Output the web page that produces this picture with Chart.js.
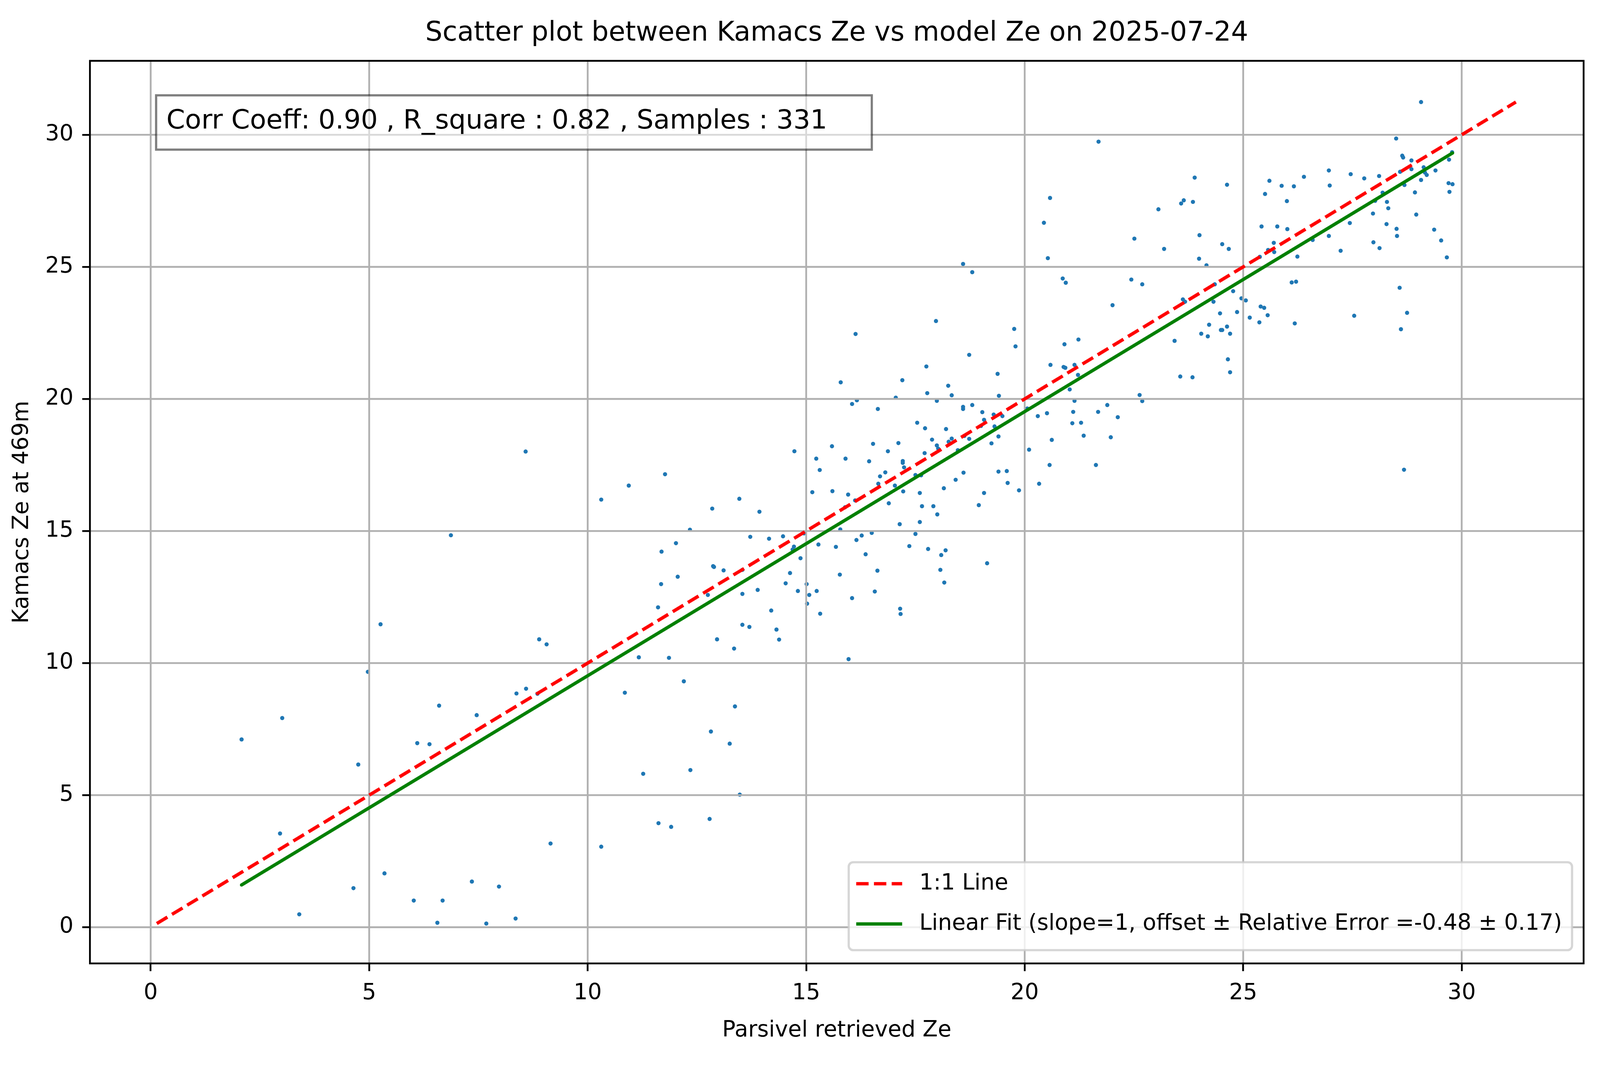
<!DOCTYPE html>
<html>
<head>
<meta charset="utf-8">
<script src="https://cdn.jsdelivr.net/npm/chart.js"></script>
<style>
html, body { margin: 0; padding: 0; background: #ffffff; overflow: hidden; }
canvas { display: block; position: absolute; left: 0; top: 0; }
</style>
</head>
<body>
<canvas id="c"></canvas>
<script>
// ---------------- data ----------------
const titleText = 'Scatter plot between Kamacs Ze vs model Ze on 2025-07-24';
const xAxisTitle = 'Parsivel retrieved Ze';
const yAxisTitle = 'Kamacs Ze at 469m';
const statsText = 'Corr Coeff: 0.90 , R_square : 0.82 , Samples : 331';
const oneToOneLabel = '1:1 Line';
const fitLabel = 'Linear Fit (slope=1, offset \u00B1 Relative Error =-0.48 \u00B1 0.17)';

const xTicks = [0, 5, 10, 15, 20, 25, 30];
const yTicks = [0, 5, 10, 15, 20, 25, 30];

// 1:1 reference line end points (x = y)
const oneToOneLine = [0.14, 31.24];
// linear fit line end points
const fitLineX = [2.08, 29.79];
const fitLineY = [1.60, 29.31];

// Parsivel retrieved Ze (x)
const parsivelZe = [
  20.58,20.44,20.53,18.59,18.80,17.97,16.13,19.76,19.79,18.73,
  17.75,19.38,20.59,15.79,17.20,18.25,17.77,18.33,19.41,17.05,
  16.05,16.16,17.99,16.64,18.59,18.59,18.80,19.03,19.29,19.49,
  19.07,19.00,19.31,17.54,17.72,18.20,20.06,20.30,20.51,

  21.69,23.89,24.63,25.60,26.39,25.88,26.16,25.50,26.00,23.06,
  23.58,23.64,23.85,22.51,23.19,24.00,24.52,24.67,23.99,24.16,
  25.42,25.78,26.01,25.70,25.57,25.71,25.38,26.24,26.59,20.87,
  20.94,22.44,22.69,22.01,24.35,23.62,23.67,24.32,24.77,24.96,
  25.06,24.47,24.86,25.15,25.40,25.48,25.56,25.37,26.11,26.21,
  26.18,24.22,24.04,24.19,24.49,24.52,24.63,24.70,23.43,24.65,
  24.70,23.56,23.84,20.91,21.23,20.89,20.93,21.14,21.22,21.03,
  22.63,22.69,21.14,21.11,21.68,21.89,22.13,21.09,21.29,

  29.07,28.50,28.64,28.66,28.85,28.85,29.13,28.59,29.16,29.20,
  29.40,29.71,29.78,29.07,28.69,28.93,29.70,29.79,29.72,26.96,
  26.98,27.46,27.77,28.11,28.19,28.02,28.29,28.32,27.97,27.44,
  26.96,27.23,27.98,28.12,28.28,28.51,28.52,28.96,29.37,29.53,
  29.66,28.58,28.75,28.61,27.54,28.68,

  17.88,17.99,17.71,15.59,14.73,16.53,17.11,16.87,15.23,15.90,
  16.44,15.31,17.21,17.21,17.24,16.81,16.69,16.65,17.03,17.50,
  17.63,17.22,17.60,15.14,15.60,15.96,16.12,15.89,16.89,17.65,
  17.91,18.00,13.47,13.93,17.14,17.60,15.78,13.72,14.15,14.47,
  14.95,14.72,14.69,15.28,15.68,16.15,16.27,16.50,17.50,17.36,
  17.79,16.36,14.87,13.54,14.63,15.77,16.63,14.53,15.01,13.89,
  13.54,14.81,15.07,15.24,16.57,16.05,15.02,14.20,15.32,17.15,
  17.16,13.54,13.70,14.32,

  14.38,15.97,13.48,

  18.33,18.26,18.62,18.73,18.02,18.47,19.24,19.40,20.10,20.62,
  21.35,21.97,20.57,21.63,20.33,19.40,19.59,19.61,19.87,18.60,
  18.42,18.15,19.07,18.95,18.19,18.09,19.14,18.07,18.16,

  8.58,10.31,10.94,11.77,12.85,12.34,12.02,11.69,12.87,12.89,
  13.11,12.06,11.68,12.75,11.61,8.89,9.06,11.17,11.86,12.96,
  13.35,12.20,10.85,8.37,8.59,8.85,13.37,12.82,

  5.26,4.97,3.01,2.08,4.75,2.96,4.64,3.40,5.35,

  6.87,6.60,7.46,6.10,6.38,9.15,7.35,7.97,6.02,6.68,
  6.56,7.68,8.35,

  13.25,11.27,12.35,11.62,11.91,12.79,10.31
];

// Kamacs Ze at 469m (y)
const kamacsZe = [
  27.61,26.67,25.33,25.11,24.80,22.95,22.46,22.65,21.99,21.67,
  21.23,20.95,21.29,20.63,20.71,20.50,20.22,20.14,20.12,20.05,
  19.81,19.95,19.93,19.62,19.70,19.62,19.77,19.50,19.41,19.35,
  19.21,18.98,18.96,19.10,18.89,18.86,19.64,19.35,19.46,

  29.74,28.38,28.11,28.26,28.41,28.07,28.05,27.76,27.49,27.18,
  27.40,27.52,27.46,26.07,25.68,26.20,25.86,25.68,25.31,25.06,
  26.53,26.53,26.43,25.91,25.64,25.56,25.38,25.39,26.02,24.56,
  24.40,24.52,24.34,23.55,24.34,23.77,23.68,23.68,24.08,23.81,
  23.73,23.24,23.29,23.08,23.50,23.45,23.17,22.90,24.41,24.44,
  22.86,22.81,22.47,22.37,22.61,22.61,22.74,22.47,22.20,21.50,
  21.01,20.85,20.82,22.07,22.25,21.21,21.18,21.29,20.91,20.36,
  20.15,19.92,19.93,19.51,19.51,19.77,19.31,19.08,19.10,

  31.24,29.86,29.21,29.14,29.03,28.70,28.77,28.60,28.57,28.48,
  28.65,29.06,29.34,28.29,28.10,27.82,28.17,28.13,27.84,28.65,
  28.08,28.51,28.35,28.44,27.81,27.50,27.46,27.22,27.02,26.66,
  26.17,25.61,25.93,25.71,26.62,26.44,26.17,26.98,26.41,26.00,
  25.36,24.21,23.26,22.64,23.15,17.32,

  18.46,18.24,17.95,18.21,18.02,18.30,18.33,18.02,17.74,17.74,
  17.64,17.31,17.65,17.58,17.41,17.22,17.07,16.79,16.72,17.12,
  17.11,16.50,16.44,16.47,16.51,16.38,16.16,15.90,16.05,15.94,
  15.94,15.63,16.22,15.73,15.26,15.34,15.06,14.78,14.71,14.80,
  14.91,14.41,14.30,14.49,14.40,14.66,14.83,14.93,14.89,14.43,
  14.32,14.12,13.97,13.53,13.41,13.35,13.50,13.02,12.99,12.77,
  12.62,12.73,12.58,12.73,12.71,12.46,12.25,11.99,11.87,12.06,
  11.86,11.45,11.37,11.27,

  10.89,10.15,5.02,

  18.50,18.38,18.60,18.49,18.12,18.06,18.32,18.58,18.08,18.45,
  18.61,18.55,17.50,17.50,16.79,17.25,17.27,16.82,16.54,17.21,
  16.94,16.62,16.44,15.98,14.27,14.09,13.78,13.53,13.05,

  18.01,16.19,16.72,17.15,15.85,15.05,14.54,14.22,13.67,13.64,
  13.51,13.27,12.99,12.58,12.11,10.90,10.71,10.22,10.20,10.90,
  10.55,9.31,8.88,8.85,9.03,8.84,8.36,7.41,

  11.47,9.67,7.92,7.11,6.16,3.55,1.48,0.49,2.04,

  14.84,8.39,8.03,6.97,6.93,3.17,1.73,1.54,1.01,1.01,
  0.17,0.14,0.33,

  6.95,5.81,5.95,3.94,3.80,4.10,3.05
];

// ---------------- sizing (design made for a 4981 x 2726 page) ----------------
const W = window.innerWidth || 4981;
const H = window.innerHeight || 2726;
const sx = W / 4981, sy = H / 2726, fs = sx;
const X = v => v * sx, Y = v => v * sy, F = v => v * fs;

const canvas = document.getElementById('c');
canvas.width = W;
canvas.height = H;
canvas.style.width = W + 'px';
canvas.style.height = H + 'px';

// ---------------- chart ----------------
const FONT = 'DejaVu Sans';
const scatterPoints = parsivelZe.map((v, i) => ({ x: v, y: kamacsZe[i] }));
const oneToOnePoints = oneToOneLine.map(v => ({ x: v, y: v }));
const fitPoints = fitLineX.map((v, i) => ({ x: v, y: fitLineY[i] }));

const tickFont = F(69), titleFont = F(84), boxFont = F(83);
const tickLen = F(24), thin = F(5.6), lineW = F(10.4);

const overlay = {
  id: 'overlay',
  // grid drawn above the scatter dots but below the lines (as in matplotlib)
  afterDatasetDraw(chart, args) {
    if (args.index !== 2) return;
    const { ctx, chartArea: a } = chart;
    const xs = chart.scales.x, ys = chart.scales.y;
    ctx.save();
    ctx.beginPath();
    ctx.rect(a.left, a.top, a.right - a.left, a.bottom - a.top);
    ctx.clip();
    ctx.strokeStyle = '#b0b0b0';
    ctx.lineWidth = thin;
    for (const v of xTicks) {
      const p = xs.getPixelForValue(v);
      ctx.beginPath(); ctx.moveTo(p, a.top); ctx.lineTo(p, a.bottom); ctx.stroke();
    }
    for (const v of yTicks) {
      const p = ys.getPixelForValue(v);
      ctx.beginPath(); ctx.moveTo(a.left, p); ctx.lineTo(a.right, p); ctx.stroke();
    }
    ctx.restore();
  },
  afterDatasetsDraw(chart) {
    const { ctx, chartArea: a } = chart;
    const ds = chart.data.datasets;
    ctx.save();
    // axes frame
    ctx.strokeStyle = '#000000';
    ctx.lineWidth = thin;
    ctx.setLineDash([]);
    ctx.strokeRect(a.left, a.top, a.right - a.left, a.bottom - a.top);

    // statistics text box
    const bx = a.left + X(206), by = a.top + Y(88.3), bw = X(2228), bh = Y(139);
    ctx.fillStyle = 'rgba(255,255,255,0.5)';
    ctx.fillRect(bx, by, bw, bh);
    ctx.strokeStyle = 'rgba(0,0,0,0.5)';
    ctx.lineWidth = F(6.9);
    ctx.strokeRect(bx, by, bw, bh);
    ctx.fillStyle = '#000000';
    ctx.font = boxFont + 'px "' + FONT + '"';
    ctx.textAlign = 'left';
    ctx.textBaseline = 'alphabetic';
    ctx.fillText(statsText, bx + X(32), by + bh / 2 - Y(9.5) + 0.365 * boxFont);

    // legend (lower right, inside axes)
    ctx.font = tickFont + 'px "' + FONT + '"';
    const items = [ds[0], ds[1]];
    const tw = Math.max(...items.map(d => ctx.measureText(d.label).width));
    const lw = F(220) + tw + F(31), lh = Y(225);
    const lx = a.right - X(36) - lw, ly = a.bottom - Y(34) - lh;
    ctx.beginPath();
    if (ctx.roundRect) ctx.roundRect(lx, ly, lw, lh, F(14)); else ctx.rect(lx, ly, lw, lh);
    ctx.fillStyle = 'rgba(255,255,255,0.8)';
    ctx.fill();
    ctx.strokeStyle = 'rgba(204,204,204,0.8)';
    ctx.lineWidth = F(6.9);
    ctx.stroke();
    const rows = [ly + lh * 55 / 225, ly + lh * 158 / 225];
    items.forEach((d, i) => {
      const yy = rows[i];
      ctx.strokeStyle = d.borderColor;
      ctx.lineWidth = d.borderWidth;
      ctx.setLineDash(d.borderDash || []);
      ctx.lineCap = 'butt';
      ctx.beginPath();
      ctx.moveTo(lx + F(23.4), yy);
      ctx.lineTo(lx + F(166.4), yy);
      ctx.stroke();
      ctx.setLineDash([]);
      ctx.fillStyle = '#000000';
      ctx.textBaseline = 'middle';
      ctx.fillText(d.label, lx + F(220), yy);
    });
    ctx.restore();
  }
};

const titleLine = titleFont * 1.2;
const titlePadTop = Y(86) - titleLine / 2;
const titlePadBottom = Y(155.7) - titlePadTop - titleLine;

new Chart(canvas, {
  type: 'scatter',
  data: {
    datasets: [
      {
        label: oneToOneLabel,
        data: oneToOnePoints,
        showLine: true,
        borderColor: '#ff0000',
        backgroundColor: '#ff0000',
        borderWidth: lineW,
        borderDash: [F(38.5), F(16.7)],
        borderCapStyle: 'butt',
        pointRadius: 0,
        pointHoverRadius: 0,
        fill: false
      },
      {
        label: fitLabel,
        data: fitPoints,
        showLine: true,
        borderColor: '#008000',
        backgroundColor: '#008000',
        borderWidth: lineW,
        borderCapStyle: 'round',
        pointRadius: 0,
        pointHoverRadius: 0,
        fill: false
      },
      {
        label: 'Samples',
        data: scatterPoints,
        showLine: false,
        backgroundColor: '#1f77b4',
        borderColor: '#1f77b4',
        borderWidth: 0,
        pointRadius: F(6.5),
        pointHoverRadius: F(6.5)
      }
    ]
  },
  options: {
    responsive: false,
    animation: false,
    events: [],
    layout: { padding: { left: 0, right: X(51), top: 0, bottom: 0 } },
    plugins: {
      legend: { display: false },
      tooltip: { enabled: false },
      title: {
        display: true,
        text: titleText,
        fullSize: false,
        color: '#000000',
        font: { family: FONT, size: titleFont, weight: 'normal', lineHeight: 1.2 },
        padding: { top: titlePadTop, bottom: titlePadBottom }
      }
    },
    scales: {
      x: {
        type: 'linear',
        min: -1.39,
        max: 32.79,
        afterBuildTicks: s => { s.ticks = xTicks.map(v => ({ value: v })); },
        afterFit: s => { s.height = H - Y(2466); },
        ticks: {
          color: '#000000',
          font: { family: FONT, size: tickFont, lineHeight: 1.2 },
          padding: Y(2543) - Y(2466) - tickLen - tickFont * 0.6,
          maxRotation: 0,
          autoSkip: false
        },
        grid: {
          drawOnChartArea: false,
          drawTicks: true,
          tickLength: tickLen,
          tickColor: '#000000',
          tickWidth: thin,
          color: '#b0b0b0',
          lineWidth: thin
        },
        border: { display: false },
        title: {
          display: true,
          text: xAxisTitle,
          color: '#000000',
          font: { family: FONT, size: tickFont, lineHeight: 1.2 },
          padding: { top: 0, bottom: H - Y(2638) - tickFont * 0.6 }
        }
      },
      y: {
        type: 'linear',
        min: -1.37,
        max: 32.8,
        afterBuildTicks: s => { s.ticks = yTicks.map(v => ({ value: v })); },
        afterFit: s => { s.width = X(280); },
        ticks: {
          color: '#000000',
          font: { family: FONT, size: tickFont, lineHeight: 1.2 },
          padding: X(280) - tickLen - X(228.6),
          autoSkip: false
        },
        grid: {
          drawOnChartArea: false,
          drawTicks: true,
          tickLength: tickLen,
          tickColor: '#000000',
          tickWidth: thin,
          color: '#b0b0b0',
          lineWidth: thin
        },
        border: { display: false },
        title: {
          display: true,
          text: yAxisTitle,
          color: '#000000',
          font: { family: FONT, size: tickFont, lineHeight: 1.2 },
          padding: { top: X(70) - tickFont * 0.6, bottom: 0 }
        }
      }
    }
  },
  plugins: [overlay]
});
</script>
</body>
</html>
